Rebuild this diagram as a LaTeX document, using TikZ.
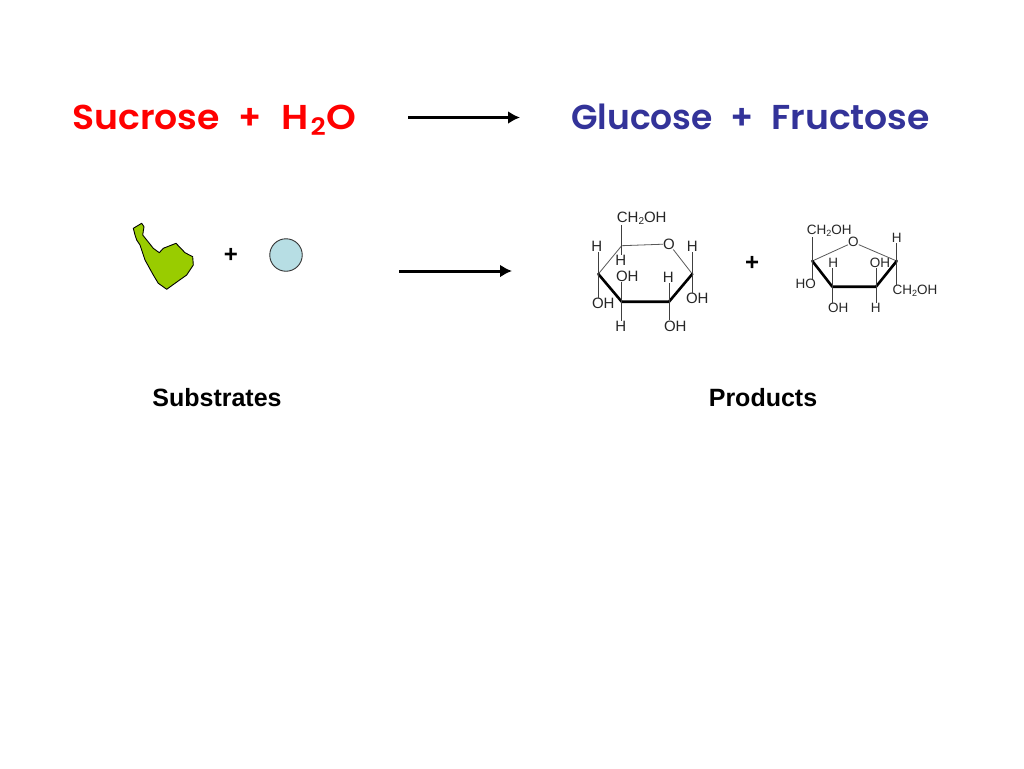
\documentclass[tikz,border=0pt]{standalone}
\usepackage{fontspec}
\setmainfont{Liberation Sans}
\newfontfamily\titlefont{Poppins SemiBold}
\usetikzlibrary{arrows.meta}
\definecolor{titlered}{HTML}{FF0000}
\definecolor{titleblue}{HTML}{333399}
\definecolor{blobgreen}{HTML}{99CC00}
\definecolor{ballblue}{HTML}{B7DEE4}
\definecolor{edgegray}{HTML}{333333}
\newcommand{\wordgap}{\hspace{19pt}}
\tikzset{
  headline/.style={inner sep=0pt,anchor=base west,font=\titlefont\fontsize{34.5}{40}\selectfont},
  atom/.style={inner sep=0pt,font=\fontsize{15}{17}\selectfont,text=black!85},
  fatom/.style={inner sep=0pt,font=\fontsize{13.5}{16}\selectfont,text=black!85},
  captext/.style={inner sep=0pt,font=\bfseries\fontsize{25}{29}\selectfont},
  plussign/.style={inner sep=0pt,font=\bfseries\fontsize{24}{26}\selectfont},
  thinbond/.style={draw=black!65,line width=0.8pt},
  sidebond/.style={draw=black!75,line width=1pt},
  boldbond/.style={draw=black,line width=2.6pt,line join=round,line cap=round},
  reaction/.style={draw=black,line width=3pt,-{Latex[length=12pt,width=13pt]}}
}
\begin{document}
\begin{tikzpicture}[x=1pt,y=-1pt]
\useasboundingbox (0,0) rectangle (1024,768);
\fill[white] (0,0) rectangle (1024,768);
% titles
\node[headline,text=titlered] (sucrose) at (72,129) {\scalebox{1.05}[1]{Sucrose}\wordgap+\wordgap \scalebox{1.1}[1]{H\hspace{2pt}\raisebox{-6pt}{\fontsize{24}{26}\selectfont 2}\hspace{1pt}O}};
\node[headline,text=titleblue] (gluc) at (571,129) {Glucose\hspace{18pt}+\hspace{17pt}\scalebox{1.05}[1]{Fructose}};
\coordinate (a1s) at (408,117.5); \coordinate (a1e) at (520,117.5);
\draw[reaction] (a1s) -- (a1e);
\coordinate (a2s) at (399,271); \coordinate (a2e) at (512,271);
\draw[reaction] (a2s) -- (a2e);
% substrates
\draw[draw=black,fill=blobgreen,line width=0.9pt,line join=round]
 (133.3,228.3) -- (141.7,223.3) -- (144,226.7) -- (142.7,235) -- (146.7,240) -- (153.3,248.3) -- (159.3,252.7) -- (163.3,248.3) -- (176,243.3) -- (185,252.7) -- (192.7,256.7) -- (193.3,265) -- (186.7,275) -- (175,283.3) -- (166.7,289.3) -- (158.3,283.3) -- (153.3,275) -- (145,260) -- (140,245) -- (136.7,240) -- (135,235) -- cycle;
\node[plussign] (p1) at (231,255) {+};
\node[circle,draw=edgegray,fill=ballblue,line width=0.9pt,minimum size=32.5pt,inner sep=0pt] (ball) at (286,255) {};
\node[captext] (subs) at (217,397.5) {Substrates};
\node[captext] (prods) at (763,397.5) {Products};
\node[plussign] (p2) at (752,263) {+};
% glucose
\coordinate (g5) at (621.7,245.7); \coordinate (g1) at (692.3,274);
\coordinate (g2) at (669,301.7); \coordinate (g3) at (621.7,301.7); \coordinate (g4) at (598.3,274);
\node[atom] (gO) at (669,244) {O};
\node[atom] (gc) at (641.7,218.3) {CH\raisebox{-2.5pt}{\fontsize{10}{11}\selectfont 2}OH};
\node[atom] (gh4) at (596.7,246.7) {H};
\node[atom] (gh1) at (692.3,246.7) {H};
\node[atom] (gh5) at (620.7,260.7) {H};
\node[atom] (goh3) at (627.3,276.7) {OH};
\node[atom] (gh2) at (668.3,277.7) {H};
\node[atom] (goh1) at (697.3,298.7) {OH};
\node[atom] (goh4) at (603.3,303.3) {OH};
\node[atom] (gh3) at (620.7,326) {H};
\node[atom] (goh2) at (675.3,326) {OH};
\draw[thinbond] (gO) -- (g5) -- (g4);
\draw[thinbond] (gO) -- (g1);
\draw[boldbond] (g4) -- (g3) -- (g2) -- (g1);
\draw[sidebond] (g5) -- (g5 |- gc.south);
\draw[sidebond] (g5) -- (g5 |- gh5.north);
\draw[sidebond] (g1) -- (g1 |- gh1.south);
\draw[sidebond] (g1) -- (g1 |- goh1.north);
\draw[sidebond] (g4) -- (g4 |- gh4.south);
\draw[sidebond] (g4) -- (g4 |- goh4.north);
\draw[sidebond] (g3) -- (g3 |- goh3.south);
\draw[sidebond] (g3) -- (g3 |- gh3.north);
\draw[sidebond] (g2) -- (g2 |- gh2.south);
\draw[sidebond] (g2) -- (g2 |- goh2.north);
% fructose
\coordinate (f2) at (812.3,261); \coordinate (f5) at (896.7,261);
\coordinate (f4) at (876,286.7); \coordinate (f3) at (832.3,286.7);
\node[fatom] (fO) at (853.3,242.3) {O};
\node[fatom] (fc) at (829.3,231) {CH\raisebox{-2.5pt}{\fontsize{9}{10}\selectfont 2}OH};
\node[fatom] (fh5) at (896.7,237.7) {H};
\node[fatom] (fh3) at (833.3,262.7) {H};
\node[fatom] (foh4) at (880,262.7) {OH};
\node[fatom] (fho) at (805.7,284) {HO};
\node[fatom] (fc2) at (915,291) {CH\raisebox{-2.5pt}{\fontsize{9}{10}\selectfont 2}OH};
\node[fatom] (foh3) at (838.3,308.3) {OH};
\node[fatom] (fh4) at (875.7,308.3) {H};
\draw[thinbond] (fO) -- (f2);
\draw[thinbond] (fO) -- (f5);
\draw[boldbond] (f2) -- (f3) -- (f4) -- (f5);
\draw[sidebond] (f2) -- (f2 |- fc.south);
\draw[sidebond] (f2) -- (f2 |- fho.north);
\draw[sidebond] (f5) -- (f5 |- fh5.south);
\draw[sidebond] (f5) -- (f5 |- fc2.north);
\draw[sidebond] (f3) -- (f3 |- fh3.south);
\draw[sidebond] (f3) -- (f3 |- foh3.north);
\draw[sidebond] (f4) -- (f4 |- foh4.south);
\draw[sidebond] (f4) -- (f4 |- fh4.north);
\end{tikzpicture}
\end{document}
